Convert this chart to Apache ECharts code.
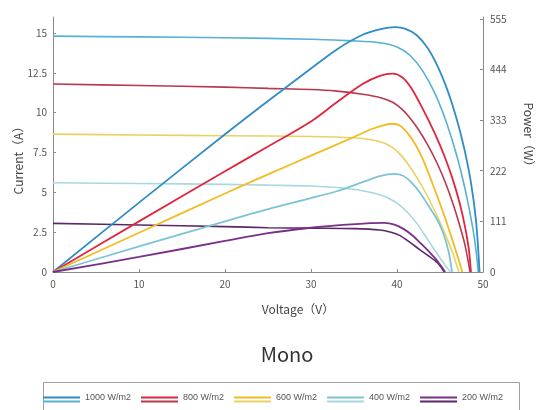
<!DOCTYPE html>
<html>
<head>
<meta charset="utf-8">
<script src="https://cdn.jsdelivr.net/npm/echarts@6/dist/echarts.min.js"></script>
<style>
html,body{margin:0;padding:0;background:#fff;}
#main{width:537px;height:410px;}
</style>
</head>
<body>
<div id="main"></div>
<script>
// Irradiance levels
const irradiance = ['1000 W/m2', '800 W/m2', '600 W/m2', '400 W/m2', '200 W/m2'];
// Axis tick labels
const xTicks = [0, 10, 20, 30, 40, 50];
const currentTicks = [0, 2.5, 5, 7.5, 10, 12.5, 15];
const powerTicks = [0, 111, 222, 333, 444, 555];

// I-V curves [voltage V, current A]
const iv1000 = [[0,14.8],[10,14.75],[20,14.7],[30,14.6],[35,14.5],[38,14.38],[40,14.12],[41.5,13.6],[43,12.6],[44.5,11.1],[45.8,9.3],[47,7.2],[48,5.0],[48.8,2.8],[49.2,1.3],[49.45,0]];
const iv800  = [[0,11.8],[10,11.7],[20,11.6],[25,11.52],[30,11.45],[33,11.35],[36,11.15],[38,10.95],[39.5,10.65],[40.6,10.2],[41.6,9.6],[42.6,8.85],[43.6,7.95],[44.6,6.9],[45.6,5.65],[46.5,4.3],[47.3,2.9],[47.9,1.7],[48.5,0]];
const iv600  = [[0,8.65],[10,8.6],[20,8.55],[30,8.5],[35,8.42],[37,8.3],[38.5,8.1],[39.5,7.8],[40.5,7.3],[41.5,6.6],[42.5,5.75],[43.5,4.8],[44.5,3.7],[45.5,2.5],[46.4,1.3],[47.2,0]];
const iv400  = [[0,5.6],[10,5.55],[20,5.5],[25,5.45],[30,5.4],[33,5.3],[36,5.1],[38,4.85],[39.2,4.58],[40.3,4.2],[41.3,3.7],[42.3,3.05],[43.2,2.35],[44,1.68],[44.8,1.05],[45.5,0.5],[46.2,0]];
const iv200  = [[0,3.05],[10,2.95],[20,2.85],[25,2.78],[30,2.75],[35,2.72],[38,2.64],[39.3,2.5],[40.3,2.3],[41.4,1.9],[42.6,1.42],[43.7,1.0],[44.7,0.58],[45.5,0]];

// P-V curves [voltage V, power W]
const pv1000 = [[0,0],[10,152],[20,302],[25,375],[30,446],[33,488],[36,520],[38,532],[39.8,537],[41,533],[42.3,519],[43.6,490],[44.8,448],[45.9,397],[46.9,338],[47.8,272],[48.6,196],[49.2,110],[49.6,0]];
const pv800  = [[0,0],[10,111],[20,221],[25,275],[30,330],[33,372],[36,412],[38,430],[39.5,435],[40.6,427],[41.6,405],[42.6,372],[43.6,335],[44.6,295],[45.6,250],[46.5,202],[47.3,150],[47.9,100],[48.35,50],[48.6,0]];
const pv600  = [[0,0],[10,86],[20,172],[25,214],[30,255],[35,296],[37,313],[38.5,322],[39.5,325],[40.4,320],[41.2,305],[42,284],[42.9,252],[43.8,210],[44.8,160],[45.8,107],[46.7,55],[47.6,0]];
const pv400  = [[0,0],[10,56],[20,111],[25,138],[30,162],[33,177],[36,197],[38,210],[39.7,215],[40.7,211],[41.7,196],[42.7,173],[43.7,144],[44.7,114],[45.4,84],[46,45],[46.4,0]];
const pv200  = [[0,0],[10,33],[20,68],[25,85],[30,97],[33,102],[36.9,107],[38.5,107.5],[39.7,104],[40.8,94],[41.8,80],[42.8,62],[43.8,43],[44.7,24],[45.6,0]];

const ivCurves = [iv1000, iv800, iv600, iv400, iv200];
const pvCurves = [pv1000, pv800, pv600, pv400, pv200];
const pvColors = ['#2f8cc4', '#e0263e', '#f2bb22', '#7cc4d4', '#7a2f88'];
const ivColors = ['#55b2d2', '#b8384e', '#e9d262', '#a8d8e0', '#5a2868'];

const ivNames = irradiance.map(n => n + ' ');
const series = [];
irradiance.forEach((name, i) => {
  series.push({
    name: name, type: 'line', xAxisIndex: 0, yAxisIndex: 1,
    data: pvCurves[i], showSymbol: false, smooth: 0.3,
    color: pvColors[i], lineStyle: { width: 1.8, color: pvColors[i] }, z: 3
  });
  series.push({
    name: ivNames[i], type: 'line', xAxisIndex: 0, yAxisIndex: 0,
    data: ivCurves[i], showSymbol: false, smooth: 0.3,
    color: ivColors[i], lineStyle: { width: 1.6, color: ivColors[i] }, z: 2
  });
});

const font = '"Noto Sans CJK SC", "Noto Sans", sans-serif';
const axisLineStyle = { color: '#8a8a8a', width: 1 };
const labelStyle = { color: '#555', fontSize: 10, fontFamily: font };

const chart = echarts.init(document.getElementById('main'), null, { renderer: 'canvas' });
chart.setOption({
  animation: false,
  backgroundColor: '#fff',
  title: {
    text: 'Mono', left: 287, top: 344, textAlign: 'center', padding: 0,
    textStyle: { fontSize: 20, fontWeight: 'normal', color: '#333', fontFamily: font }
  },
  legend: [{
    data: irradiance, left: 43, top: 393, padding: 0, itemGap: 10,
    icon: 'rect', itemWidth: 37, itemHeight: 2,
    textStyle: { fontSize: 9, color: '#555', fontFamily: '"Liberation Sans", sans-serif' }
  }, {
    data: ivNames, left: 43, top: 397, padding: 0, itemGap: 10,
    icon: 'rect', itemWidth: 37, itemHeight: 2,
    formatter: n => n.trim(),
    textStyle: { fontSize: 9, color: 'rgba(0,0,0,0)', fontFamily: '"Liberation Sans", sans-serif' }
  }],
  graphic: [{
    type: 'rect', left: 41, top: 380, silent: true,
    shape: { width: 476, height: 40 },
    style: { fill: 'none', stroke: '#a0a0a0', lineWidth: 1 }
  }],
  grid: { left: 53, right: 54, top: 17, bottom: 138, containLabel: false, outerBoundsMode: 'none' },
  xAxis: {
    type: 'value', min: 0, max: 50,
    name: 'Voltage（V）', nameLocation: 'middle', nameGap: 31, nameMoveOverlap: false,
    nameTextStyle: { fontSize: 12, color: '#444', fontFamily: font, padding: [0, 0, 0, 60] },
    axisLine: { show: true, lineStyle: axisLineStyle },
    axisTick: { show: true, inside: true, length: 3, lineStyle: axisLineStyle, customValues: xTicks },
    axisLabel: { ...labelStyle, margin: 7, customValues: xTicks },
    splitLine: { show: false }
  },
  yAxis: [{
    type: 'value', min: 0, max: 16, position: 'left',
    name: 'Current（A）', nameLocation: 'middle', nameGap: 29, nameMoveOverlap: false,
    nameTextStyle: { fontSize: 12, color: '#444', fontFamily: font, padding: [0, 26, 0, 0] },
    axisLine: { show: true, lineStyle: axisLineStyle },
    axisTick: { show: true, inside: true, length: 3, lineStyle: axisLineStyle, customValues: currentTicks },
    axisLabel: { ...labelStyle, margin: 6, customValues: currentTicks },
    splitLine: { show: false }
  }, {
    type: 'value', min: 0, max: 559, position: 'right',
    name: 'Power（W）', nameLocation: 'middle', nameGap: 40, nameRotate: -90, nameMoveOverlap: false,
    nameTextStyle: { fontSize: 12, color: '#444', fontFamily: font, padding: [0, 14, 0, 0] },
    axisLine: { show: true, lineStyle: axisLineStyle },
    axisTick: { show: true, inside: true, length: 3, lineStyle: axisLineStyle, customValues: powerTicks },
    axisLabel: { ...labelStyle, margin: 7, customValues: powerTicks },
    splitLine: { show: false }
  }],
  series: series
});
</script>
</body>
</html>
